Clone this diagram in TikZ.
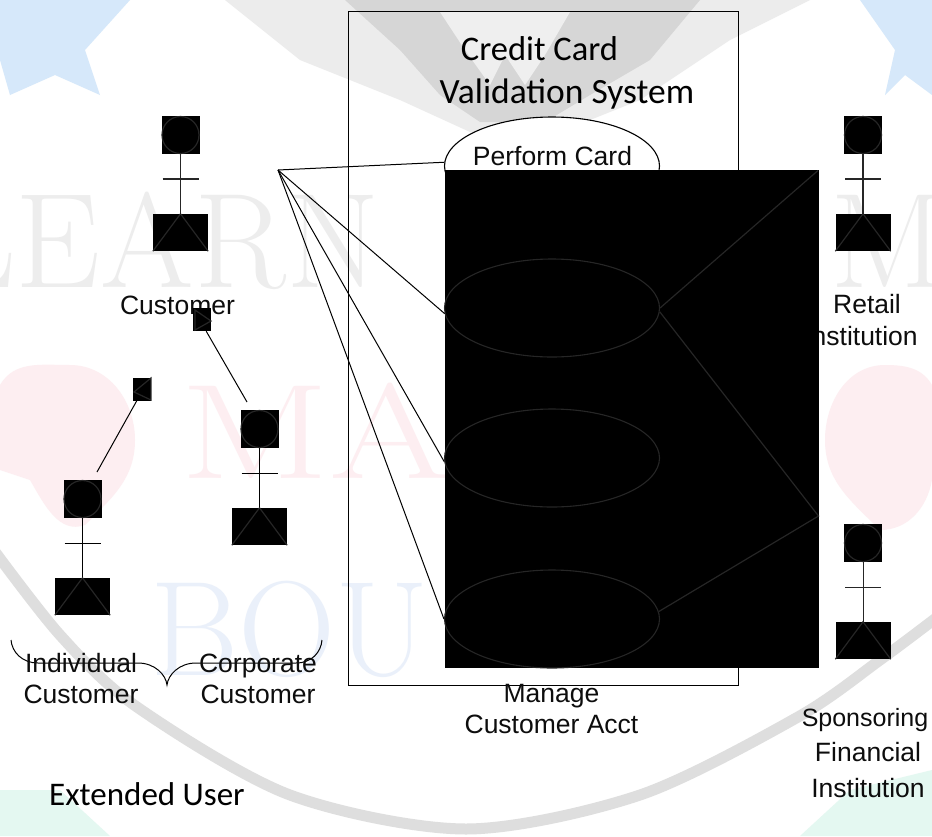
\documentclass[tikz,border=0pt]{standalone}
\usepackage{fontspec}
\usetikzlibrary{shapes.geometric}
\setmainfont{Liberation Sans}
\newfontfamily\calfont{Carlito}
\definecolor{dim}{HTML}{262626}
\definecolor{wmgrey}{HTML}{EDEDED}
\definecolor{wmring}{HTML}{DEDEDE}
\definecolor{wmpink}{HTML}{FDEEF1}
\definecolor{wmblue}{HTML}{EAF0FA}
\definecolor{wmstar}{HTML}{D6E8FA}
\definecolor{wmgreen}{HTML}{E4F8F1}
\definecolor{wmblob}{HTML}{D6D6D6}
\definecolor{wmblobl}{HTML}{ECECEC}
\tikzset{
  lbl/.style={font=\fontsize{26.5}{31}\selectfont, align=center, inner sep=0pt, text=black!95},
  callbl/.style={font=\calfont\fontsize{34.5}{40}\selectfont, inner sep=0pt, text=black},
  headbox/.style={fill=black, minimum width=38pt, minimum height=38pt, inner sep=0pt},
  legbox/.style={fill=black, minimum width=55pt, minimum height=37pt, inner sep=0pt},
  tribox/.style={fill=black, minimum width=18pt, minimum height=23pt, inner sep=0pt},
  usecase/.style={ellipse, minimum width=215pt, minimum height=98pt, inner sep=0pt, line width=1.1pt},
  thin1/.style={line width=1pt, draw=black},
  dimline/.style={line width=1.2pt, draw=dim},
  wm/.style={font=\fontfamily{lmr}\fontsize{135}{135}\selectfont, inner sep=0pt, anchor=base west},
}
\newcommand{\actorfig}[4]{% name, cx, head top, line style
  \node[headbox] (#1h) at (#2,#3+19) {};
  \draw[dimline] (#1h.center) circle (18.5pt);
  \node[legbox] (#1l) at (#2,#3+116.5) {};
  \draw[#4] (#1h.south) -- (#1l.north);
  \coordinate (#1al) at (#2-18,#3+63);
  \coordinate (#1ar) at (#2+18,#3+63);
  \draw[#4] (#1al) -- (#1ar);
  \draw[dimline] (#1l.south west) -- (#1l.north) -- (#1l.south east);
}
\begin{document}
\begin{tikzpicture}[x=1pt,y=-1pt]
\useasboundingbox (0,0) rectangle (932,836);
% watermark
\fill[white] (0,0) rectangle (932,836);
\begin{scope}
\clip (0,0) rectangle (932,836);
\draw[wmring, line width=11pt] plot[smooth] coordinates {(-10,545) (60,635) (137,707) (290,795) (466,829) (640,795) (798,717) (880,660) (940,615)};
\fill[wmblobl] (225,0) -- (810,0) -- (730,40) -- (640,100) -- (560,132) -- (470,132) -- (400,100) -- (300,60) -- cycle;
\fill[wmblob] (345,0) -- (700,0) -- (650,60) -- (590,95) -- (545,122) -- (480,122) -- (440,95) -- (400,50) -- cycle;
\fill[white!60!wmblob] (440,12) -- (570,12) -- (545,55) -- (525,85) -- (505,55) -- (490,85) -- (465,50) -- cycle;
\fill[wmstar] (0,0) -- (130,0) -- (85,50) -- (100,95) -- (55,75) -- (10,95) -- (0,60) -- cycle;
\fill[wmstar] (860,0) -- (932,0) -- (932,95) -- (905,75) -- (885,95) -- (895,50) -- cycle;
\fill[wmgreen] (0,836) -- (0,790) -- (60,790) -- (110,836) -- cycle;
\fill[wmgreen] (932,836) -- (932,770) -- (850,790) -- (800,836) -- cycle;
\fill[wmpink] (70,365) to[out=0,in=90] (135,440) to[out=270,in=45] (85,525) to[out=200,in=300] (30,480) -- (0,470) -- (0,385) to[out=60,in=180] cycle;
\fill[wmpink] (885,365) to[out=180,in=90] (825,440) to[out=270,in=135] (880,530) to[out=0,in=260] (932,480) -- (932,385) to[out=120,in=0] cycle;
\node[wm, text=wmgrey] (wmlearn) at (-62,287) {LEARN};
\node[wm, text=wmgrey] (wmlearn2) at (830,287) {M};
\node[wm, text=wmpink] (wmmas) at (180,478) {\scalebox{1.3}[1]{MAS}};
\node[wm, text=wmblue] (wmbou) at (150,675) {BOU};
\end{scope}
% system frame
\node[draw=black, line width=1pt, minimum width=390pt, minimum height=674pt, inner sep=0pt] (frame) at (543,348) {};
\node[callbl] (title1) at (539.5,49) {Credit Card};
\node[callbl, font=\calfont\fontsize{35.5}{40}\selectfont] (title2) at (567,94) {Validation System};
% use cases
\node[usecase, draw=black, fill=white] (uc1) at (552,166) {};
\node[lbl] (uc1t) at (552.5,156) {Perform Card};
\coordinate (cust) at (278,170);
% retail text sits partly under the black area
\node[lbl] (rt1) at (867,304.5) {Retail};
\node[lbl] (rt2) at (861,336) {Institution};
% black block
\node[fill=black, minimum width=374pt, minimum height=498pt, inner sep=0pt] (block) at (632,419) {};
\node[usecase, draw=dim] (uc2) at (552,308) {};
\node[usecase, draw=dim] (uc3) at (552,458) {};
\node[usecase, draw=dim] (uc4) at (552,619) {};
\draw[thin1] (cust) -- (uc1.178);
\draw[thin1] (cust) -- (uc2.183);
\draw[thin1] (cust) -- (uc3.182);
\draw[thin1] (cust) -- (uc4.180);
\coordinate (r1) at (818,170.5);
\coordinate (r2) at (818.5,516);
\draw[dimline] (uc2.0) -- (r1);
\draw[dimline] (uc2.358) -- (r2) -- (uc4.4);
% actors
\actorfig{cu}{180.5}{116}{line width=1.2pt, draw=dim}
\actorfig{re}{863}{116}{line width=1.2pt, draw=dim}
\actorfig{sp}{863}{524}{line width=1pt, draw=dim}
\actorfig{in}{82.5}{480}{thin1}
\actorfig{co}{259.5}{410}{thin1}
% labels
\node[lbl] (culbl) at (177.5,305) {Customer};
% generalisation stubs
\node[tribox] (t1) at (202,319.5) {};
\draw[dimline] (195,310) -- (211,321) -- (195,330) -- cycle;
\node[tribox] (t2) at (142,389) {};
\draw[dimline] (151,378) -- (134,392) -- (151,400) -- cycle;
\coordinate (t1e) at (247,402);
\coordinate (t2e) at (97,472);
\draw[thin1] (t1.south east) ++(-5,0) -- (t1e);
\draw[thin1] (t2.south west) ++(4,0) -- (t2e);
% brace
\coordinate (bl) at (11,640);
\coordinate (bm) at (167,685);
\coordinate (br) at (322,640);
\draw[thin1] (bl) .. controls (12,652) and (22,663) .. (38,663) -- (138,663) .. controls (155,663) and (166,675) .. (bm)
  .. controls (168,675) and (179,663) .. (196,663) -- (296,663) .. controls (312,663) and (321,652) .. (br);
\node[lbl] (ind) at (81,679) {Individual\\Customer};
\node[lbl] (cor) at (258,679) {Corporate\\Customer};
\node[lbl] (man) at (551.5,709) {Manage\\Customer Acct};
\node[lbl, font=\fontsize{25}{31}\selectfont] (sp1) at (865,720) {Sponsoring};
\node[lbl] (sp2) at (868,752) {Financial};
\node[lbl] (sp3) at (868,788) {Institution};
\node[callbl, font=\calfont\fontsize{33}{40}\selectfont] (ext) at (147,794) {Extended User};
\end{tikzpicture}
\end{document}
